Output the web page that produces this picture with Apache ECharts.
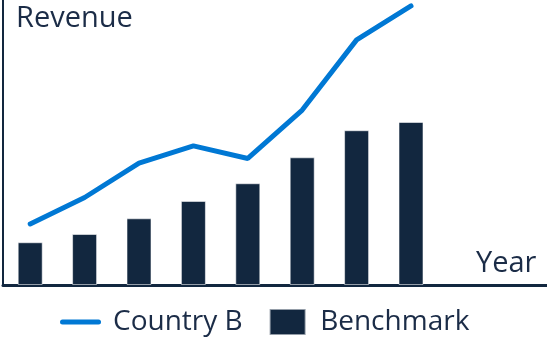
<!DOCTYPE html>
<html>
<head>
<meta charset="utf-8">
<script src="https://cdn.jsdelivr.net/npm/echarts@6/dist/echarts.min.js"></script>
<style>
  html, body { margin: 0; padding: 0; background: #ffffff; }
  #chart { width: 547px; height: 339px; }
</style>
</head>
<body>
<div id="chart"></div>
<script>
// Year slots along the horizontal axis (labels are not drawn)
const categories = ['Y1', 'Y2', 'Y3', 'Y4', 'Y5', 'Y6', 'Y7', 'Y8', 'Y9', 'Y10'];
// Revenue, Country B (line)
const countryB = [21.4, 30.7, 42.8, 48.8, 44.4, 61.4, 86.0, 97.9];
// Revenue, benchmark (bars)
const benchmark = [15.0, 17.9, 23.4, 29.5, 35.7, 44.8, 54.3, 57.2];

const NAVY = '#12273f';
const TEXT = '#1b2c47';
const BLUE = '#0078d4';
const FONT = '"Open Sans", "Noto Sans", sans-serif';

const chart = echarts.init(document.getElementById('chart'), null, { renderer: 'canvas' });

chart.setOption({
  animation: false,
  backgroundColor: '#ffffff',
  grid: { left: 3, right: 0, top: 0, bottom: 54, outerBoundsMode: 'none' },
  xAxis: {
    type: 'category',
    data: categories,
    boundaryGap: true,
    axisLine: { show: true, lineStyle: { color: NAVY, width: 3 } },
    axisTick: { show: false },
    axisLabel: { show: false },
    splitLine: { show: false }
  },
  yAxis: {
    type: 'value',
    min: 0,
    max: 100,
    axisLine: { show: true, lineStyle: { color: NAVY, width: 2 } },
    axisTick: { show: false },
    axisLabel: { show: false },
    splitLine: { show: false }
  },
  legend: {
    left: 60,
    top: 308,
    padding: 0,
    itemWidth: 41,
    itemHeight: 26,
    itemGap: 26,
    symbolKeepAspect: true,
    textStyle: { color: TEXT, fontSize: 28, fontFamily: FONT, padding: [0, 0, 0, 7] },
    data: [
      { name: 'Country B', icon: 'path://M2.5,0H38.5A2.5,2.5,0,0,1,38.5,5H2.5A2.5,2.5,0,0,1,2.5,0Z' },
      { name: 'Benchmark', icon: 'path://M0,0H36V26H0Z' }
    ]
  },
  graphic: [
    {
      type: 'text',
      left: 16,
      top: 4,
      style: { text: 'Revenue', fill: TEXT, font: '29px ' + FONT }
    },
    {
      type: 'text',
      left: 476,
      top: 249,
      style: { text: 'Year', fill: TEXT, font: '29px ' + FONT }
    }
  ],
  series: [
    {
      name: 'Benchmark',
      type: 'bar',
      data: benchmark,
      barWidth: 25,
      itemStyle: { color: NAVY, borderColor: 'rgba(255,255,255,0.55)', borderWidth: 1 },
      z: 2
    },
    {
      name: 'Country B',
      type: 'line',
      data: countryB,
      symbol: 'none',
      lineStyle: { color: BLUE, width: 5, cap: 'round' },
      itemStyle: { color: BLUE },
      z: 3
    }
  ]
});
</script>
</body>
</html>
